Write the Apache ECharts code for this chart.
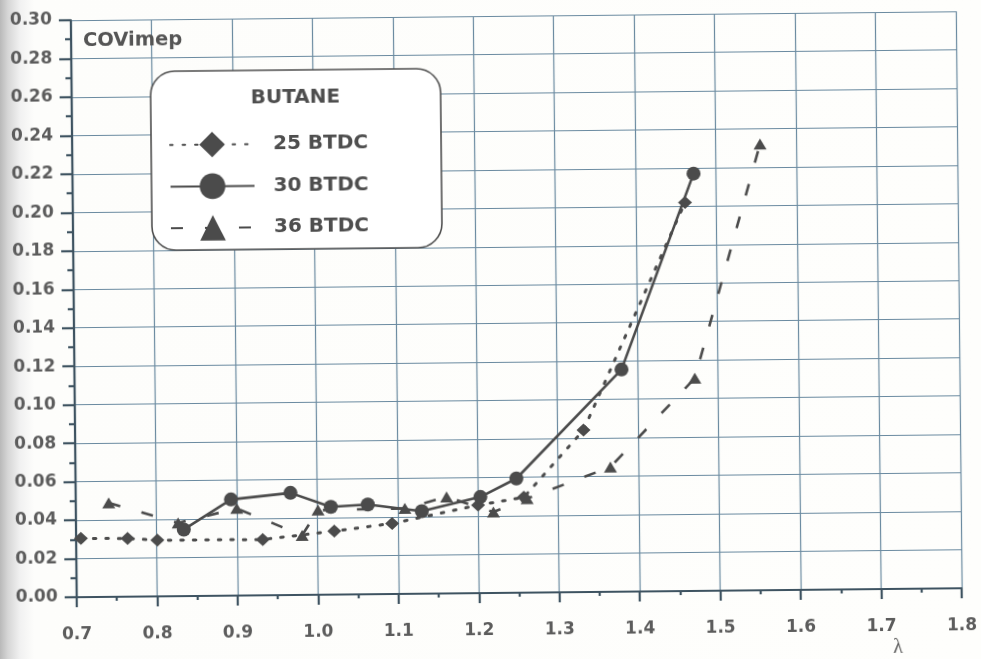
<!DOCTYPE html>
<html>
<head>
<meta charset="utf-8">
<script src="https://cdn.jsdelivr.net/npm/echarts@6/dist/echarts.min.js"></script>
<style>
  html, body { margin: 0; padding: 0; }
  body {
    width: 981px; height: 659px; overflow: hidden;
    background: linear-gradient(to right, #b9b9b9 0px, #d6d6d6 8px, #f1f1f1 20px, #fdfdfb 34px, #fefefc 100%);
  }
  #chart {
    width: 981px; height: 659px;
    transform: rotate(-0.58deg);
    transform-origin: 50% 50%;
  }
</style>
</head>
<body>
<div id="chart"></div>
<script>
// Coefficient of variation of IMEP versus excess air ratio, butane, three spark timings
const seriesNames = ['25 BTDC', '30 BTDC', '36 BTDC'];

const lambda25 = [0.706, 0.764, 0.801, 0.932, 1.021, 1.093, 1.200, 1.257, 1.332, 1.461];
const cov25    = [0.0305, 0.0303, 0.0292, 0.0290, 0.0330, 0.0367, 0.0457, 0.0496, 0.0842, 0.202];

const lambda30 = [0.834, 0.893, 0.967, 1.017, 1.063, 1.130, 1.203, 1.248, 1.380, 1.472];
const cov30    = [0.0346, 0.0500, 0.0531, 0.0456, 0.0467, 0.0429, 0.0500, 0.0594, 0.1155, 0.217];

const lambda36 = [0.741, 0.827, 0.900, 0.981, 1.001, 1.109, 1.161, 1.219, 1.261, 1.365, 1.471, 1.555];
const cov36    = [0.0489, 0.0381, 0.0453, 0.0310, 0.0440, 0.0444, 0.0502, 0.0421, 0.0489, 0.0649, 0.1106, 0.232];

const xTickLabels = ['0.7', '0.8', '0.9', '1.0', '1.1', '1.2', '1.3', '1.4', '1.5', '1.6', '1.7', '1.8'];
const yTickLabels = ['0.00', '0.02', '0.04', '0.06', '0.08', '0.10', '0.12', '0.14', '0.16',
                     '0.18', '0.20', '0.22', '0.24', '0.26', '0.28', '0.30'];

const pairs = (xs, ys) => xs.map((x, i) => [x, ys[i]]);

const ink = '#4b4b4b';
const gridBlue = '#6a8aa0';
const axisInk = '#3e5361';
const labelFont = { fontFamily: 'DejaVu Sans', fontWeight: 'bold', fontSize: 17, color: '#5c5c5c' };

const chart = echarts.init(document.getElementById('chart'), null, { renderer: 'canvas' });

chart.setOption({
  animation: false,
  backgroundColor: 'transparent',
  grid: { left: 74, right: 22, top: 16, bottom: 66, containLabel: false },
  xAxis: {
    type: 'value',
    min: 0.7, max: 1.8, interval: 0.1,
    axisLine: { show: true, onZero: false, lineStyle: { color: axisInk, width: 2.2 } },
    axisTick: { show: true, inside: false, length: 10, lineStyle: { color: axisInk, width: 2.2 } },
    minorTick: { show: true, splitNumber: 2, length: 4, lineStyle: { color: axisInk, width: 2.2 } },
    splitLine: { show: true, lineStyle: { color: gridBlue, width: 1.2 } },
    axisLabel: Object.assign({
      margin: 29,
      formatter: v => xTickLabels[Math.round((v - 0.7) / 0.1)] ?? ''
    }, labelFont)
  },
  yAxis: {
    type: 'value',
    min: 0, max: 0.30, interval: 0.02,
    axisLine: { show: true, onZero: false, lineStyle: { color: axisInk, width: 2.2 } },
    axisTick: { show: true, inside: false, length: 12, lineStyle: { color: axisInk, width: 2.2 } },
    minorTick: { show: true, splitNumber: 2, length: 6, lineStyle: { color: axisInk, width: 2.2 } },
    splitLine: { show: true, lineStyle: { color: gridBlue, width: 1.2 } },
    axisLabel: Object.assign({
      margin: 19,
      formatter: v => yTickLabels[Math.round(v / 0.02)] ?? ''
    }, labelFont)
  },
  legend: {
    orient: 'vertical',
    left: 166, top: 124,
    itemWidth: 84, itemHeight: 32, itemGap: 16,
    z: 10,
    data: seriesNames,
    textStyle: {
      fontFamily: 'DejaVu Sans', fontWeight: 'bold', fontSize: 20, color: '#4e4e4e',
      padding: [0, 0, 0, 14]
    }
  },
  graphic: [
    {
      type: 'rect', z: 5,
      shape: { x: 153, y: 68, width: 290, height: 179, r: 24 },
      style: { fill: '#ffffff', stroke: '#4f4f4f', lineWidth: 1.6 }
    },
    {
      type: 'text', z: 6, left: 253, top: 86,
      style: { text: 'BUTANE', fontFamily: 'DejaVu Sans', fontWeight: 'bold', fontSize: 20, fill: '#4e4e4e' }
    },
    {
      type: 'text', z: 6, left: 86, top: 27,
      style: { text: 'COVimep', fontFamily: 'DejaVu Sans', fontWeight: 'bold', fontSize: 19.5, fill: '#555555' }
    },
    {
      type: 'text', z: 6, left: 890, top: 642,
      style: { text: 'λ', fontFamily: 'Liberation Serif', fontSize: 20, fill: '#5c5c5c' }
    }
  ],
  series: [
    {
      name: seriesNames[0], type: 'line', data: pairs(lambda25, cov25),
      symbol: 'diamond', symbolSize: [14, 13],
      itemStyle: { color: ink },
      lineStyle: { color: ink, width: 3, type: [2.5, 10], cap: 'round' }
    },
    {
      name: seriesNames[1], type: 'line', data: pairs(lambda30, cov30),
      symbol: 'circle', symbolSize: 14,
      itemStyle: { color: ink },
      lineStyle: { color: ink, width: 2.6, type: 'solid' }
    },
    {
      name: seriesNames[2], type: 'line', data: pairs(lambda36, cov36),
      symbol: 'triangle', symbolSize: [13, 11],
      itemStyle: { color: ink },
      lineStyle: { color: ink, width: 2.6, type: [12, 22] }
    }
  ]
});
</script>
</body>
</html>
